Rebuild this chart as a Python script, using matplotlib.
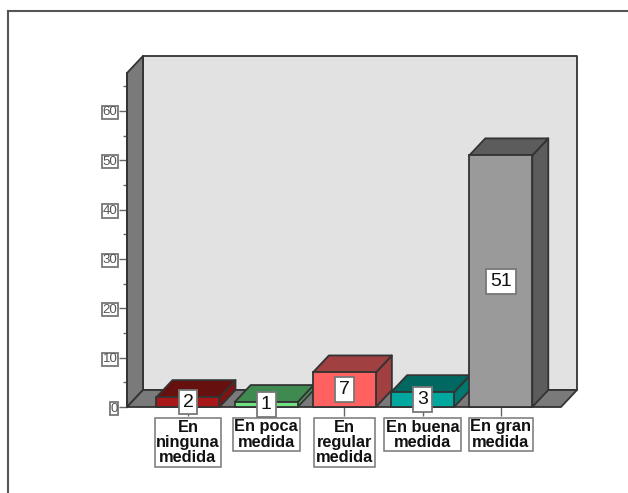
import matplotlib

matplotlib.use('Agg')

import matplotlib.pyplot as plt
from matplotlib.patches import Polygon
from matplotlib.lines import Line2D

plt.rcParams['font.family'] = ['Liberation Sans', 'DejaVu Sans']

categories = ["En\nninguna\nmedida", "En poca\nmedida", "En\nregular\nmedida", "En buena\nmedida", "En gran\nmedida"]
values = [2, 1, 7, 3, 51]
y_ticks = [0, 10, 20, 30, 40, 50, 60]
y_minor = [5, 15, 25, 35, 45, 55, 65]

front_colors = ['#a81818', '#70e080', '#ff6060', '#00a8a0', '#9a9a9a']
top_colors = ['#661010', '#3f8a50', '#a04040', '#006860', '#5c5c5c']
side_colors = ['#7f1212', '#4a9a5a', '#a04040', '#007870', '#5c5c5c']

W, H = 628, 493
EDGE = '#333333'

fig = plt.figure(figsize=(W / 100, H / 100), dpi=100)

# ejes sobre el plano frontal de la caja 3D
left, right, bottom, top = 127, 561, 407, 73
ax = fig.add_axes([left / W, 1 - bottom / H, (right - left) / W, (bottom - top) / H])
ax.set_xlim(-0.78, 4.77)
ax.set_ylim(0, 67.7)
ax.patch.set_visible(False)
for s in ['top', 'right', 'bottom']:
    ax.spines[s].set_visible(False)
ax.spines['left'].set_color(EDGE)
ax.spines['left'].set_linewidth(1.3)

# profundidad de la perspectiva, en unidades de datos
dx = 16 / 78.2
dy = 17 / 4.93
x0, x1 = ax.get_xlim()
y1 = ax.get_ylim()[1]


def face(points, color, z=1):
    ax.add_patch(Polygon(points, closed=True, facecolor=color, edgecolor=EDGE,
                         linewidth=1.3, zorder=z, clip_on=False, joinstyle='round'))


# paredes y piso
face([(x0 + dx, dy), (x1 + dx, dy), (x1 + dx, y1 + dy), (x0 + dx, y1 + dy)], '#e2e2e2')
face([(x0, 0), (x0 + dx, dy), (x0 + dx, y1 + dy), (x0, y1)], '#7a7a7a')
face([(x0, 0), (x1, 0), (x1 + dx, dy), (x0 + dx, dy)], '#7a7a7a')

# barras
bar_w = 63 / 78.2
for i, v in enumerate(values):
    a, b = i - bar_w / 2, i + bar_w / 2
    face([(b, 0), (b + dx, dy), (b + dx, v + dy), (b, v)], side_colors[i], 3)
    face([(a, v), (b, v), (b + dx, v + dy), (a + dx, v + dy)], top_colors[i], 3)
    ax.bar(i, v, width=bar_w, color=front_colors[i], edgecolor=EDGE, linewidth=1.3, zorder=3, clip_on=False)
    ax.text(i, v / 2, str(v), ha='center', va='center', fontsize=14, color='#111111', zorder=6, clip_on=False,
            bbox=dict(boxstyle='square,pad=0.2', facecolor='white', edgecolor='#777777', linewidth=1.3))

# eje y
ax.set_yticks(y_ticks)
ax.set_yticks(y_minor, minor=True)
ax.tick_params(axis='y', which='major', length=5.8, width=1, color='#666666', pad=1,
               labelsize=9.5, labelcolor='#555555')
ax.tick_params(axis='y', which='minor', length=3, width=1, color='#666666')
for lab in ax.get_yticklabels():
    lab.set_bbox(dict(boxstyle='square,pad=0.05', facecolor='white', edgecolor='#777777', linewidth=1.3))

# etiquetas de categoria
ax.set_xticks(range(len(categories)))
ax.set_xticklabels(categories, fontsize=11.8, fontweight='bold', linespacing=1.02, color='#111111')
ax.tick_params(axis='x', length=6.5, width=1, color='#666666', pad=2.5)
for lab in ax.get_xticklabels():
    lab.set_bbox(dict(boxstyle='square,pad=0.1', facecolor='white', edgecolor='#777777', linewidth=1.1))

# marco exterior
for xs, ys in [((8, W), (11, 11)), ((8, 8), (11, H))]:
    fig.add_artist(Line2D([x / W for x in xs], [1 - y / H for y in ys], color='#555555', linewidth=1.5))

fig.savefig('out.png', dpi=100)
